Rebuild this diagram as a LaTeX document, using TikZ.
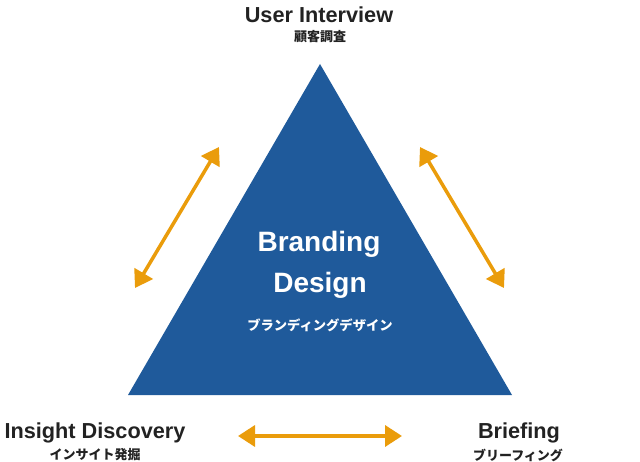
\documentclass[tikz,border=0pt]{standalone}
\usepackage{fontspec}
\setmainfont{Liberation Sans}
\newfontfamily\jp{Noto Sans CJK JP}
\usetikzlibrary{arrows.meta}
\definecolor{triblue}{HTML}{1F5A9B}
\definecolor{arrorange}{HTML}{EA9C0B}
\definecolor{txtdark}{HTML}{222222}
\tikzset{
  title/.style={font=\bfseries\fontsize{21.7}{24}\selectfont, text=txtdark, inner sep=0pt, anchor=base},
  sub/.style={font=\jp\bfseries\fontsize{13}{14}\selectfont, text=txtdark, inner sep=0pt, anchor=center},
  bigwhite/.style={font=\bfseries\fontsize{28}{30}\selectfont, text=white, inner sep=0pt, anchor=base},
  subwhite/.style={font=\jp\bfseries\fontsize{13.3}{14}\selectfont, text=white, inner sep=0pt, anchor=center},
  dblarrow/.style={draw=arrorange, line width=3.5pt, {Triangle[length=17pt,width=21pt]}-{Triangle[length=17pt,width=21pt]}}
}
\begin{document}
\begin{tikzpicture}[x=1pt,y=-1pt]
\useasboundingbox (0,0) rectangle (640,462);
% triangle
\coordinate (apex) at (320,64);
\coordinate (bl) at (128,395);
\coordinate (br) at (512,395);
\fill[triblue] (apex) -- (bl) -- (br) -- cycle;
% centre texts
\node[bigwhite] (brand) at (319,252) {Branding};
\node[bigwhite] (design) at (320,293) {Design};
\node[subwhite] (brandjp) at (320,325) {ブランディングデザイン};
% vertex labels
\node[title] (ui) at (319,23) {User Interview};
\node[sub] (uijp) at (320,37) {顧客調査};
\node[title] (id) at (95,438) {Insight Discovery};
\node[sub] (idjp) at (95,455) {インサイト発掘};
\node[title] (bf) at (519,438) {Briefing};
\node[sub] (bfjp) at (518,455) {ブリーフィング};
% arrows
\coordinate (la) at (135,288);
\coordinate (lb) at (219,147);
\coordinate (ra) at (420,147);
\coordinate (rb) at (504,288);
\coordinate (ba) at (238,436);
\coordinate (bb) at (402,436);
\draw[dblarrow] (la) -- (lb);
\draw[dblarrow] (ra) -- (rb);
\draw[dblarrow] (ba) -- (bb);
\end{tikzpicture}
\end{document}
